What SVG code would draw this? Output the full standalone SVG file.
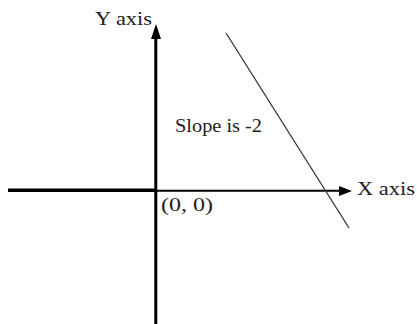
<svg xmlns="http://www.w3.org/2000/svg" width="417" height="324" viewBox="0 0 417 324">
<style>
text{font-family:"Liberation Serif","DejaVu Serif",serif;fill:#222;}
.axis{stroke:#000;fill:none;}
</style>
<rect width="417" height="324" fill="#fff"/>
<g id="connectors">
<line class="axis" x1="155.8" y1="36" x2="155.8" y2="324" stroke-width="3"/>
<polygon points="156,24 151,39 161,39" fill="#000"/>
<line class="axis" x1="8" y1="190.3" x2="156" y2="190.3" stroke-width="3.5"/>
<line class="axis" x1="156" y1="190.8" x2="341" y2="190.8" stroke-width="2"/>
<polygon points="352,191 339,186 339,196" fill="#000"/>
<line x1="226" y1="33" x2="349" y2="228" stroke="#333" stroke-width="1.3"/>
</g>
<g id="y-label"><text x="95" y="25" font-size="19" textLength="57" lengthAdjust="spacingAndGlyphs">Y axis</text></g>
<g id="x-label"><text x="357" y="195" font-size="19" textLength="58" lengthAdjust="spacingAndGlyphs">X axis</text></g>
<g id="slope-label"><text x="175" y="132" font-size="19" textLength="87" lengthAdjust="spacingAndGlyphs">Slope is -2</text></g>
<g id="origin-label"><text x="161" y="211" font-size="19" textLength="52" lengthAdjust="spacingAndGlyphs">(0, 0)</text></g>
</svg>
